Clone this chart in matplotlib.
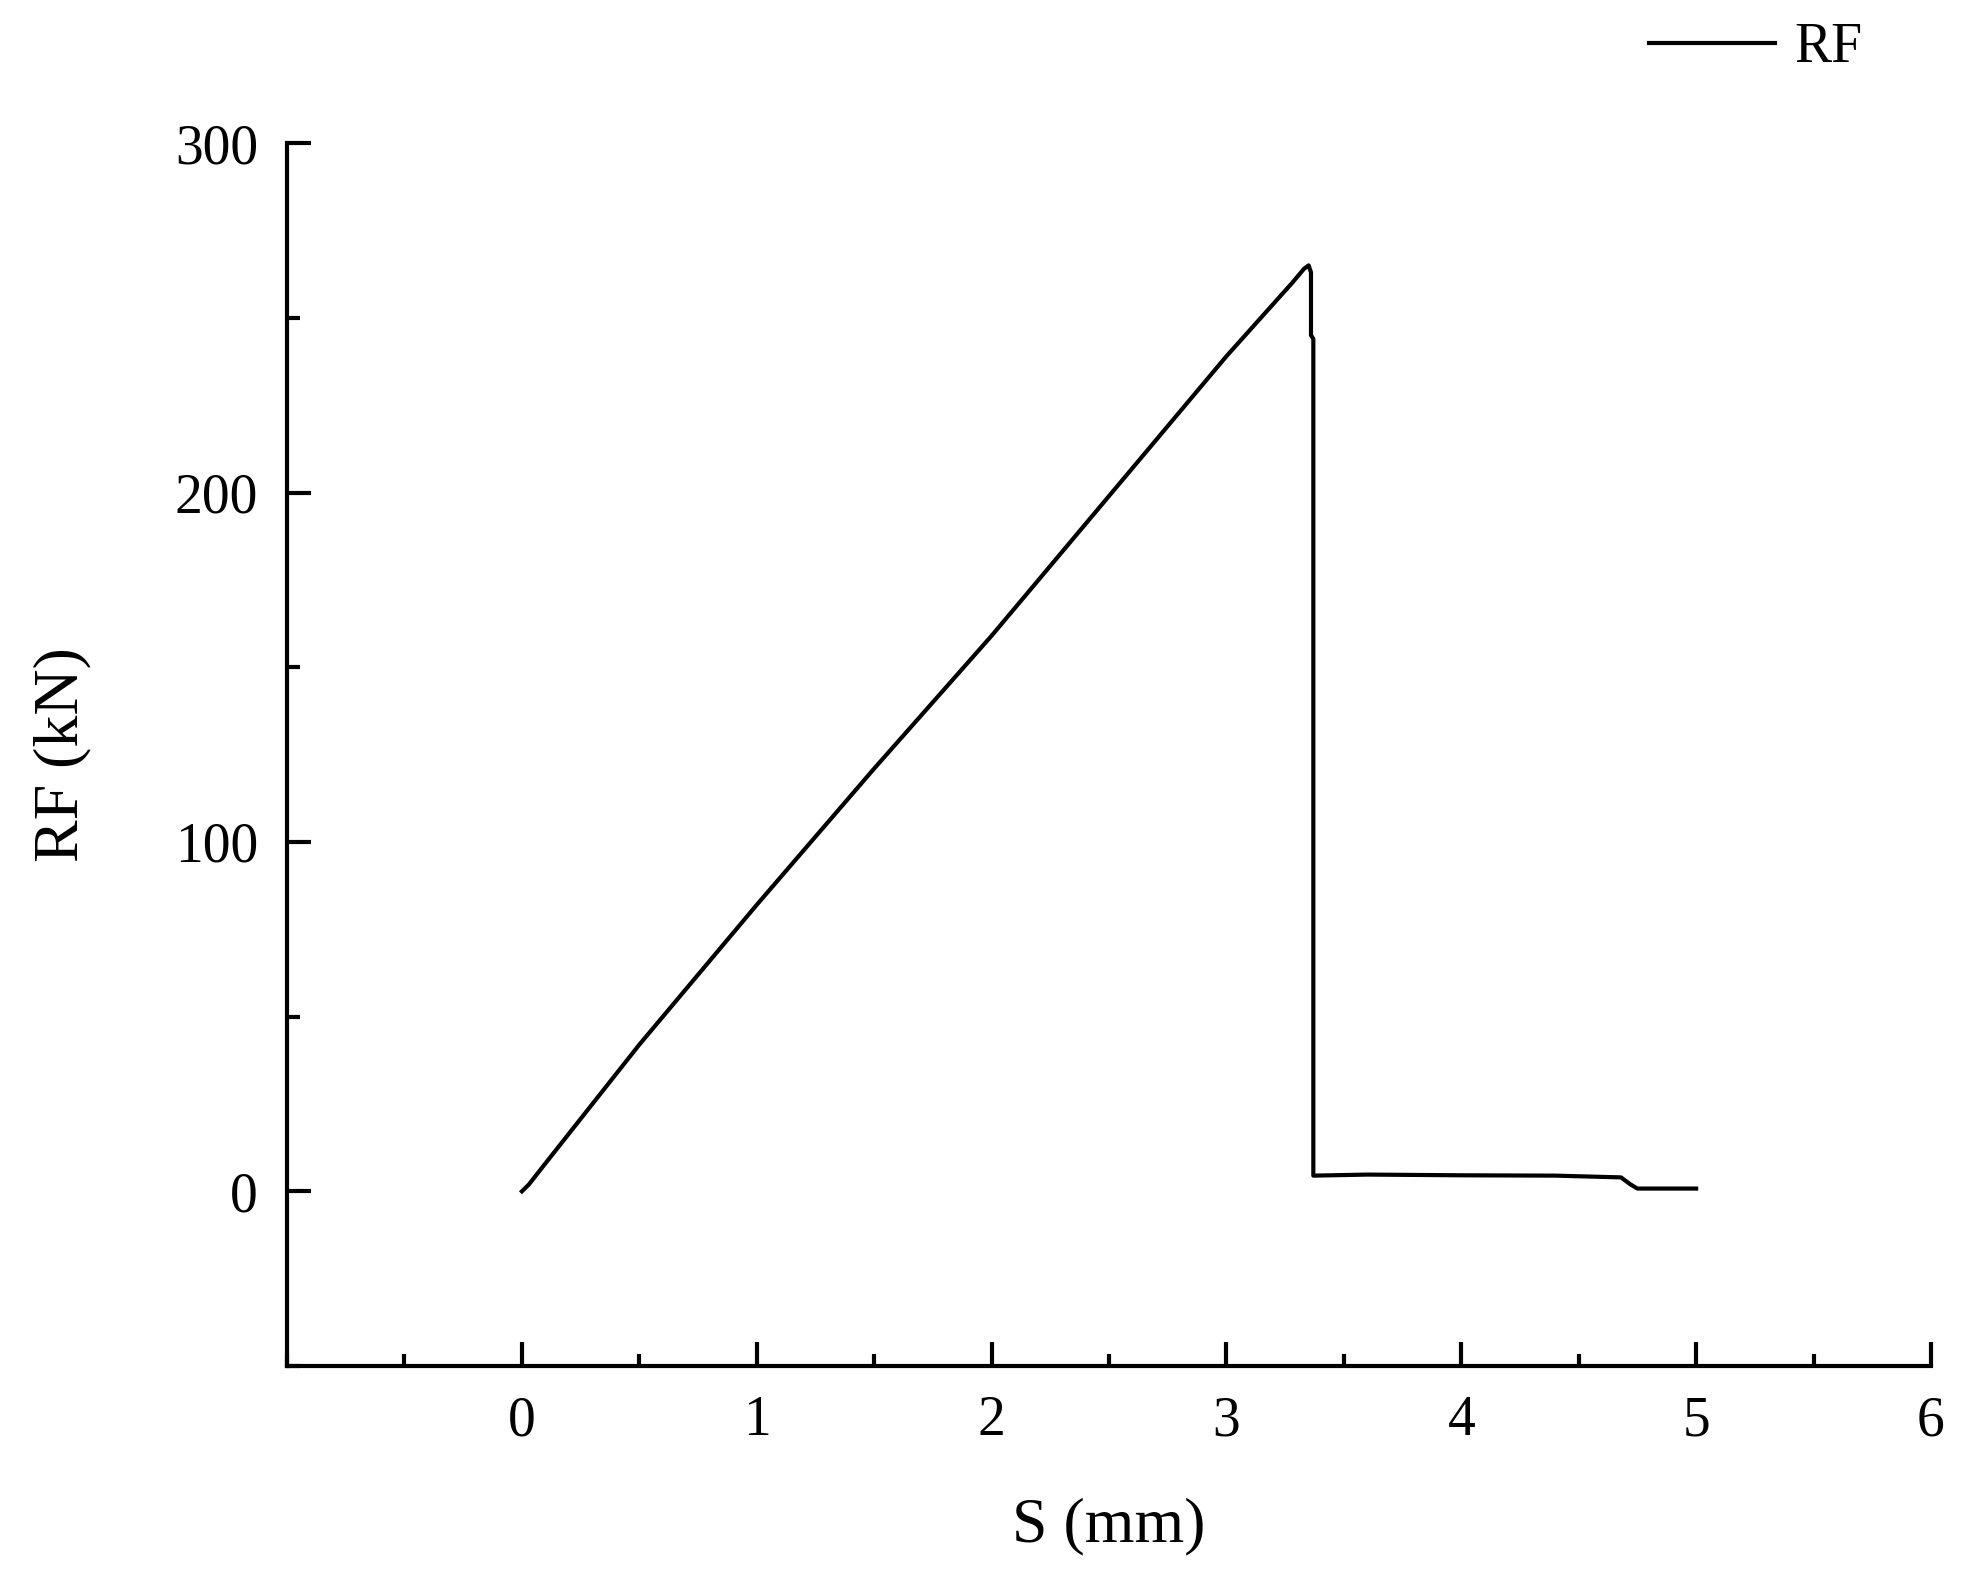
import numpy as np
import matplotlib
matplotlib.use("Agg")
import matplotlib.pyplot as plt
from matplotlib.ticker import MultipleLocator

plt.rcParams['font.family'] = ['Liberation Serif', 'DejaVu Serif']

# displacement (mm) and reaction force (kN)
s = [0.0, 0.03, 0.1, 0.3, 0.5, 1.0, 1.5, 2.0, 2.5, 3.0, 3.2, 3.28, 3.33, 3.35,
     3.36, 3.36, 3.37, 3.37, 3.6, 4.0, 4.4, 4.68, 4.72, 4.75, 5.0]
rf = [0.0, 2.0, 8.0, 25.0, 42.0, 82.0, 121.0, 159.0, 199.0, 239.0, 254.0, 260.0, 264.0, 265.0,
      263.0, 245.0, 244.0, 4.5, 4.8, 4.6, 4.5, 4.0, 2.0, 0.8, 0.8]

fig = plt.figure(figsize=(19.73, 15.74), dpi=100)
ax = fig.add_axes([0.1455, 0.1321, 0.9787 - 0.1455, 0.9091 - 0.1321])

ax.plot(s, rf, color='black', lw=3, label='RF')

ax.set_xlim(-1, 6)
ax.set_ylim(-50, 300)
ax.xaxis.set_minor_locator(MultipleLocator(0.5))
ax.yaxis.set_minor_locator(MultipleLocator(50))
ax.set_xticks([0, 1, 2, 3, 4, 5, 6])
ax.set_yticks([0, 100, 200, 300])

for side in ['top', 'right']:
    ax.spines[side].set_visible(False)
for side in ['left', 'bottom']:
    ax.spines[side].set_linewidth(3)

ax.tick_params(which='major', direction='in', length=17, width=3, labelsize=40, pad=21)
ax.tick_params(which='minor', direction='in', length=9, width=3)

ax.set_xlabel('S (mm)', fontsize=46, labelpad=36)
ax.set_ylabel('RF (kN)', fontsize=46, labelpad=60)

fig.legend(loc='center right', bbox_to_anchor=(1862 / 1973, 1 - 48 / 1574), frameon=False,
           fontsize=40, handlelength=2.26, handletextpad=0.34,
           borderpad=0, borderaxespad=0)

fig.savefig('out.png', dpi=100)
